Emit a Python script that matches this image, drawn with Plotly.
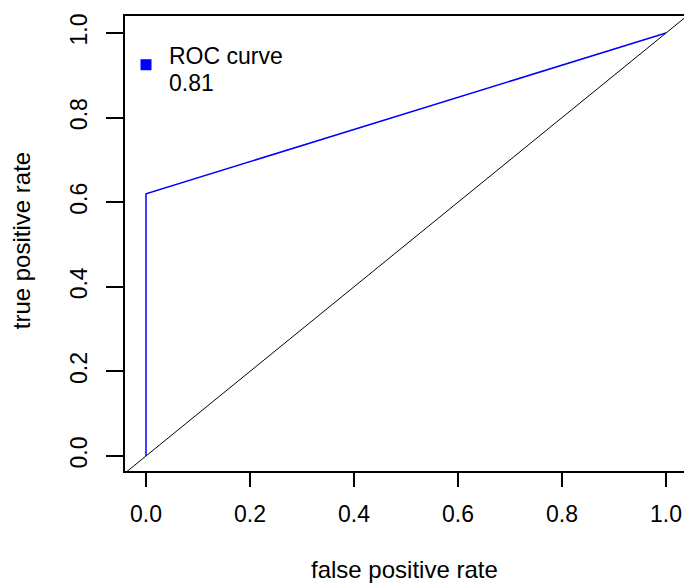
import plotly.graph_objects as go

# ROC curve data
fpr = [0.0, 0.0, 1.0]
tpr = [0.0, 0.62, 1.0]
diag_x = [-0.2, 1.2]
diag_y = [-0.2, 1.2]
tick_vals = [0.0, 0.2, 0.4, 0.6, 0.8, 1.0]
tick_text = ["0.0", "0.2", "0.4", "0.6", "0.8", "1.0"]
legend_labels = ["ROC curve", "0.81"]
x_label = "false positive rate"
y_label = "true positive rate"

FONT = "Liberation Sans, Arial, sans-serif"
FS_TICK = 23
FS_LEG = 23
FS_TITLE = 24

fig = go.Figure()
fig.add_trace(go.Scatter(x=diag_x, y=diag_y, mode="lines",
                         line=dict(color="black", width=1), showlegend=False, hoverinfo="skip"))
fig.add_trace(go.Scatter(x=fpr, y=tpr, mode="lines",
                         line=dict(color="#0000ff", width=1.5), showlegend=False))
# legend marker
fig.add_trace(go.Scatter(x=[0.0], y=[0.925], mode="markers",
                         marker=dict(symbol="square", color="#0000ff", size=11, line=dict(width=0)),
                         showlegend=False, cliponaxis=False))
for lab, yy in zip(legend_labels, [0.946, 0.881]):
    fig.add_annotation(x=0.040, y=yy, xref="x", yref="y", xanchor="left", yanchor="middle",
                       text=lab, showarrow=False, align="left",
                       font=dict(family=FONT, size=FS_LEG, color="black"))

fig.add_annotation(x=0.5, y=-0.217, xref="paper", yref="paper", xanchor="center", yanchor="middle",
                   text=x_label, showarrow=False, font=dict(family=FONT, size=FS_TITLE, color="black"))
fig.add_annotation(x=-0.186, y=0.505, xref="paper", yref="paper", xanchor="center", yanchor="middle",
                   text=y_label, textangle=-90, showarrow=False,
                   font=dict(family=FONT, size=FS_TITLE, color="black"))

fig.update_layout(
    width=684, height=584,
    margin=dict(l=125, r=0, t=16, b=113),
    paper_bgcolor="white", plot_bgcolor="white",
    font=dict(family=FONT, size=FS_TICK, color="black"),
    xaxis=dict(range=[-0.0404, 1.0346], tickvals=tick_vals, ticktext=tick_text,
               showgrid=False, zeroline=False, showline=True, linecolor="black", linewidth=1.5,
               mirror=True, ticks="outside", ticklen=14, tickwidth=1.5, tickcolor="black",
               ticklabelstandoff=8),
    yaxis=dict(range=[-0.0355, 1.0402], tickvals=tick_vals, ticktext=tick_text,
               showgrid=False, zeroline=False, showline=True, linecolor="black", linewidth=1.5,
               ticks="outside", ticklen=17, tickwidth=1.5, tickcolor="black", tickangle=-90,
               ticklabelstandoff=10),
)

fig.write_html("out.html")
